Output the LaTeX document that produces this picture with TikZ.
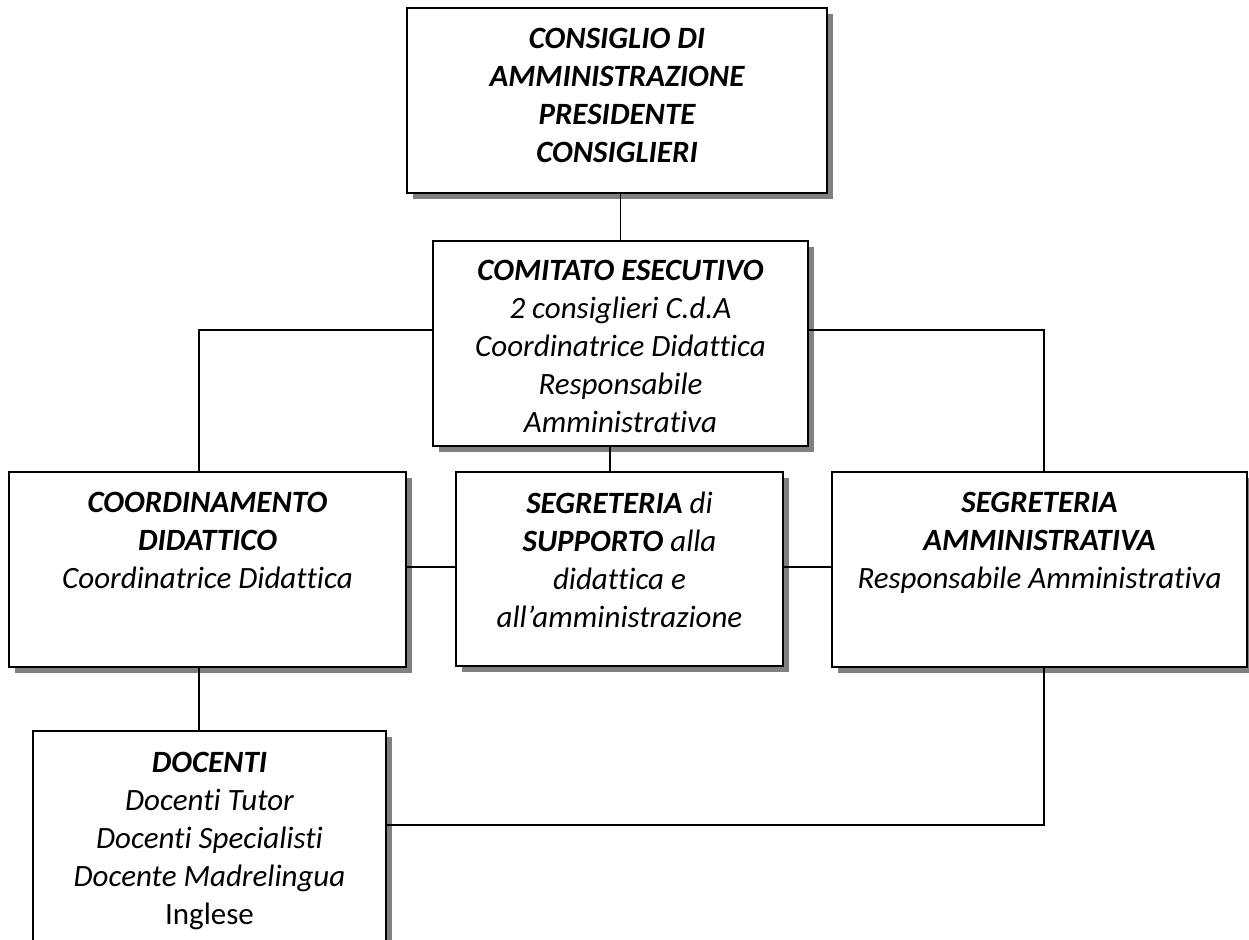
\documentclass[tikz,border=0pt]{standalone}
\usepackage{fontspec}
\setmainfont{Carlito}[Ligatures=NoCommon]
\usetikzlibrary{shadows}
\newcommand\fl{\rule{0pt}{20pt}}
\begin{document}
\begin{tikzpicture}[x=1pt,y=1pt,
  box/.style={draw=black, line width=1.3pt, fill=white, inner sep=0pt,
    drop shadow={shadow xshift=6pt, shadow yshift=-6pt, fill=black!50, opacity=1}},
  txt/.style={anchor=north, inner sep=0pt, align=center,
    font={\fontsize{31}{38}\selectfont\itshape}},
  conn/.style={draw=black, line width=1.3pt}]
\useasboundingbox (0,0) rectangle (1249,939);
% boxes
\node[box, line width=2pt, minimum width=420pt, minimum height=185pt] (cda) at (617,838.5) {};
\node[box, minimum width=375pt, minimum height=205pt] (com) at (620.5,595.5) {};
\node[box, minimum width=397pt, minimum height=195pt] (coord) at (207.5,369.5) {};
\node[box, minimum width=327pt, minimum height=194pt] (supp) at (619.5,370) {};
\node[box, minimum width=415pt, minimum height=195pt] (segamm) at (1039.5,369.5) {};
\node[box, minimum width=353pt, minimum height=230pt] (doc) at (209.5,93) {};
% texts
\node[txt] (tcda) at (617,911) {\fl\bfseries CONSIGLIO DI\\\bfseries AMMINISTRAZIONE\\\bfseries PRESIDENTE\\\bfseries CONSIGLIERI};
\node[txt] (tcom) at (620.5,679) {\fl\bfseries COMITATO ESECUTIVO\\2 consiglieri C.d.A\\Coordinatrice Didattica\\Responsabile\\Amministrativa};
\node[txt] (tcoord) at (207.5,447) {\fl\bfseries COORDINAMENTO\\\bfseries DIDATTICO\\Coordinatrice Didattica};
\node[txt] (tsupp) at (619.5,447) {\fl\textbf{SEGRETERIA} di\\\textbf{SUPPORTO} alla\\didattica e\\all’amministrazione};
\node[txt] (tsegamm) at (1039.5,447) {\fl\bfseries SEGRETERIA\\\bfseries AMMINISTRATIVA\\Responsabile Amministrativa};
\node[txt] (tdoc) at (209.5,187) {\fl\bfseries DOCENTI\\Docenti Tutor\\Docenti Specialisti\\Docente Madrelingua\\\upshape Inglese};
% connectors
\coordinate (jl) at (199,609);
\coordinate (jr) at (1044,609);
\coordinate (js) at (610,0);
\coordinate (jh) at (0,372);
\coordinate (jb) at (1044,114);
\draw[conn] (com.north |- cda.south) -- (com.north);
\draw[conn] (com.west |- jl) -- (jl) -- (jl |- coord.north);
\draw[conn] (com.east |- jr) -- (jr) -- (jr |- segamm.north);
\draw[conn] (js |- com.south) -- (js |- supp.north);
\draw[conn] (coord.east |- jh) -- (supp.west |- jh);
\draw[conn] (supp.east |- jh) -- (segamm.west |- jh);
\draw[conn] (jl |- coord.south) -- (jl |- doc.north);
\draw[conn] (jr |- segamm.south) -- (jb) -- (doc.east |- jb);
\end{tikzpicture}
\end{document}
